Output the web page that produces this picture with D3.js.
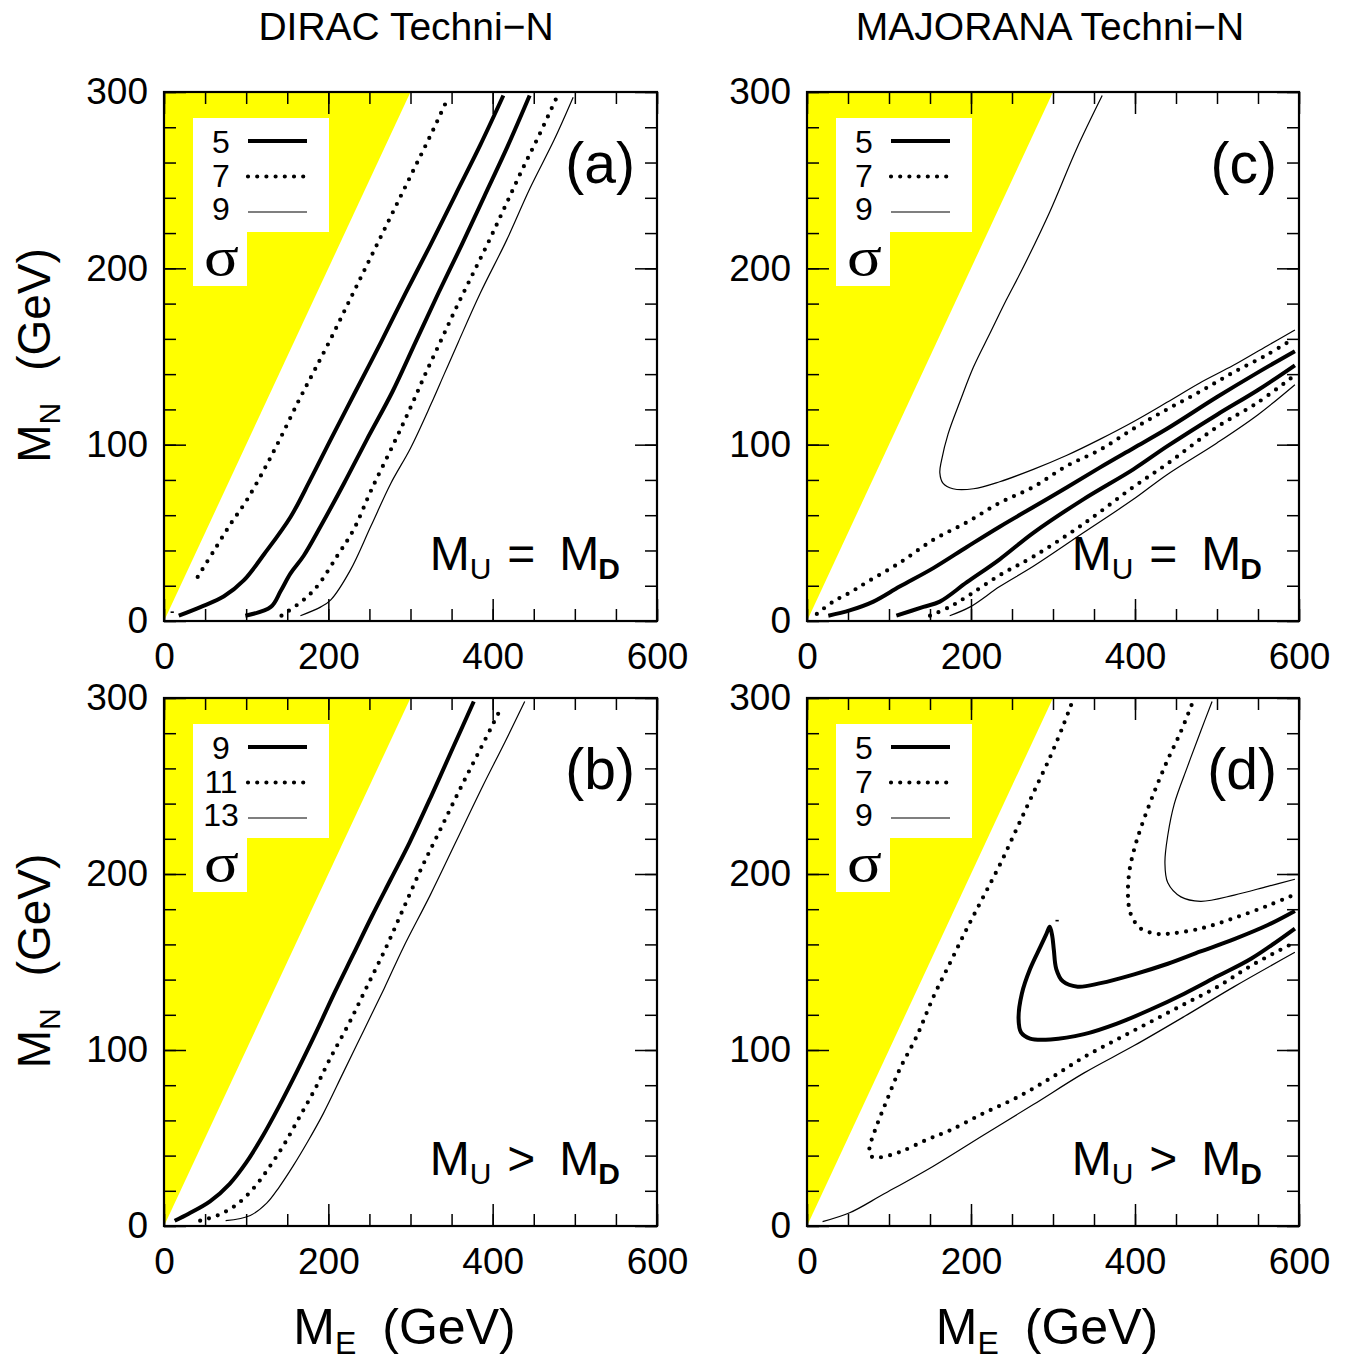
<!DOCTYPE html>
<html>
<head>
<meta charset="utf-8">
<script src="https://cdn.jsdelivr.net/npm/d3@7"></script>
<style>
  body { margin: 0; background: #fff; }
  svg text { font-family: "Liberation Sans", Arial, Helvetica, sans-serif; fill: #000; }
</style>
</head>
<body>
<div id="chart"></div>
<script>
// axis values (GeV)
const xMajor = [0, 200, 400, 600];
const xMinor = d3.range(0, 601, 50);
const yMajor = [0, 100, 200, 300];
const yMinor = d3.range(0, 301, 20);

// kinematic limit M_N = M_E, region above it is shaded
const kinematicLimit = [[0, 0], [300, 300]];

const titles = ["DIRAC Techni\u2212N", "MAJORANA Techni\u2212N"];
const legendTop = ["5", "7", "9"];
const legendB = ["9", "11", "13"];

// (a) Dirac, M_U = M_D   [M_E, M_N]
const a5Left = [[18,3],[45,8],[73,14],[97,23],[122,38],[154,59],[178,80],[203,103],[234,131],[264,158],[294,186],[324,213],[355,242],[385,270],[413,298]];
const a5Right = [[99,3],[130,8],[142,17],[154,27],[170,37],[191,54],[219,78],[247,103],[278,130],[306,158],[334,186],[362,213],[390,241],[418,269],[445,298]];
const a7Left = [[41,25],[61,40],[81,55],[100,68],[122,86],[142,104],[164,125],[183,142],[204,161],[225,181],[245,200],[265,219],[285,238],[305,257],[325,276],[345,296]];
const a7Right = [[143,3],[170,12],[187,20],[211,37],[231,52],[252,74],[280,101],[300,121],[318,140],[337,159],[356,178],[376,197],[396,216],[416,236],[436,256],[456,275],[477,296]];
const a7Stub = [[8,5],[12,5]];
const a9 = [[166,3],[191,8],[203,12],[227,29],[252,54],[276,78],[300,98],[325,123],[341,140],[358,158],[385,186],[417,216],[445,245],[475,273],[498,297]];

// (b) Dirac, M_U > M_D
const b9 = [[13,3],[30,7],[56,14],[80,24],[100,36],[120,51],[140,68],[162,88],[185,110],[208,133],[230,154],[253,176],[276,197],[299,218],[325,244],[350,270],[377,298]];
const b11 = [[44,3],[65,6],[88,12],[110,22],[129,34],[147,47],[165,62],[184,78],[202,95],[225,115],[247,136],[270,158],[291,180],[313,203],[336,225],[360,248],[385,271],[411,295]];
const b13 = [[75,3],[105,6],[125,13],[140,22],[157,34],[175,48],[194,64],[218,87],[243,111],[268,135],[291,158],[324,188],[355,218],[388,250],[415,275],[439,298]];

// (c) Majorana, M_U = M_D
const c5Upper = [[26,3],[52,6],[81,11],[113,19.5],[154,30],[195,42],[235,53.5],[296,70],[357,87],[398,98],[439,109],[500,127],[550,141],[595,153]];
const c5Lower = [[109,3],[142,8],[162,11],[195,22],[235,35],[276,50],[337,69],[398,86],[439,99],[500,117],[550,131],[595,145]];
const c7Upper = [[12,4],[32,11],[52,16],[73,22],[113,33],[154,46],[195,56],[235,67],[276,76],[317,88],[357,97],[398,109],[439,120],[479,130],[520,141],[561,151],[593,160]];
const c7Lower = [[150,3],[174,8],[199,15],[235,26],[276,36.5],[337,55],[398,76],[439,89],[500,110],[550,124],[591,138]];
const c9Upper = [[360,298],[329,268],[296,232],[262,199],[243,182],[223,163],[203,144],[187,125],[172,106],[164,91],[162,84],[166,78],[178,75],[203,75],[235,79],[276,86],[317,94],[357,103],[398,113],[439,124],[479,135],[520,145],[561,156],[595,165]];
const c9Lower = [[174,3],[199,8],[235,19.5],[276,31],[337,50],[398,69],[439,83],[500,101],[550,117],[595,134]];

// (d) Majorana, M_U > M_D
const d5Loop = [[595,179],[562,171],[521,163],[480,156],[440,149],[399,143],[358,138],[330,136],[312,139],[304,146],[301,157],[299,165],[296,170],[292,166],[285,159],[272,146],[262,132],[258,118],[261,110],[272,106.5],[297,106],[338,109],[378,115],[419,123],[460,132],[501,142],[542,152],[595,169]];
const d5Stub = [[303,173.5],[307,173.5]];
const d7Outer = [[322,296],[313,285],[297,267],[276,246],[256,226],[236,206],[215,187],[195,169],[175,150],[154,130],[134,108],[113,89],[97,71],[85,57],[77,46],[76,42],[79,39.4],[89,39],[113,42],[146,49],[175,54.5],[215,64],[256,73],[297,84],[338,96],[378,106],[419,116],[460,126],[501,136],[542,148],[590,160]];
const d7Upper = [[469,296],[456,281],[440,265],[423,246],[407,226],[399,214],[393,201],[391.5,187],[395,177],[407,169],[427,166],[440,166],[480,169],[521,175],[562,182],[593,188]];
const d9Lower = [[19,2.5],[52,7.5],[93,18],[154,34],[215,51.6],[276,69],[338,87],[399,102.5],[460,119],[521,136],[595,155.5]];
const d9Upper = [[494,298],[480,281],[464,261],[448,240],[440,222],[436.5,206.5],[440,195],[456,187],[480,184.5],[521,188],[562,193],[595,197]];

(function() {
  const width = 1353, height = 1363;

  const styles = {
    thick:  { w: 4, dash: null },
    dotted: { w: 4.2, dash: "0,9.2" },
    thin:   { w: 1.2, dash: null },
    stub:   { w: 1.6, dash: null }
  };

  const panels = [
    { id: "a", box: { left: 164, top: 92, w: 493, h: 529 }, op: "=", legend: legendTop, yTitle: true, xTitle: false,
      curves: [[a5Left, "thick"], [a5Right, "thick"], [a7Left, "dotted"], [a7Right, "dotted"], [a9, "thin"], [a7Stub, "stub"]] },
    { id: "c", box: { left: 807, top: 92, w: 492, h: 529 }, op: "=", legend: legendTop, yTitle: false, xTitle: false,
      curves: [[c5Upper, "thick"], [c5Lower, "thick"], [c7Upper, "dotted"], [c7Lower, "dotted"], [c9Upper, "thin"], [c9Lower, "thin"]] },
    { id: "b", box: { left: 164, top: 698, w: 493, h: 528 }, op: ">", legend: legendB, yTitle: true, xTitle: true,
      curves: [[b9, "thick"], [b11, "dotted"], [b13, "thin"]] },
    { id: "d", box: { left: 807, top: 698, w: 492, h: 528 }, op: ">", legend: legendTop, yTitle: false, xTitle: true,
      curves: [[d5Loop, "thick"], [d7Outer, "dotted"], [d7Upper, "dotted"], [d9Lower, "thin"], [d9Upper, "thin"], [d5Stub, "stub"]] }
  ];

  const svg = d3.select("#chart").append("svg")
    .attr("width", width).attr("height", height)
    .attr("viewBox", `0 0 ${width} ${height}`);

  svg.append("text").attr("x", 406).attr("y", 40).attr("text-anchor", "middle")
    .attr("font-size", 39).text(titles[0]);
  svg.append("text").attr("x", 1050).attr("y", 40).attr("text-anchor", "middle")
    .attr("font-size", 39).text(titles[1]);

  const setStyle = (sel, st) => sel
    .attr("fill", "none").attr("stroke", "#000")
    .attr("stroke-width", styles[st].w)
    .attr("stroke-dasharray", styles[st].dash)
    .attr("stroke-linecap", styles[st].dash ? "round" : "butt")
    .attr("stroke-linejoin", "round");

  panels.forEach(p => {
    const b = p.box;
    const bottom = b.top + b.h, right = b.left + b.w;
    const x = d3.scaleLinear().domain([0, 600]).range([b.left, right]);
    const y = d3.scaleLinear().domain([0, 300]).range([bottom, b.top]);
    const g = svg.append("g");

    g.append("clipPath").attr("id", "clip-" + p.id)
      .append("rect").attr("x", b.left).attr("y", b.top).attr("width", b.w).attr("height", b.h);

    // shaded kinematically forbidden region
    const poly = kinematicLimit.concat([[kinematicLimit[0][0], 300]]);
    g.append("path")
      .attr("d", d3.line().x(d => x(d[0])).y(d => y(d[1]))(poly) + "Z")
      .attr("fill", "#ffff00");

    // legend box
    g.append("rect").attr("x", b.left + 29).attr("y", b.top + 26).attr("width", 136).attr("height", 114).attr("fill", "#fff");
    g.append("rect").attr("x", b.left + 29).attr("y", b.top + 139).attr("width", 54).attr("height", 55).attr("fill", "#fff");
    const legStyles = ["thick", "dotted", "thin"];
    p.legend.forEach((lab, i) => {
      g.append("text").attr("x", b.left + 57).attr("y", b.top + 61 + i * 33.5).attr("text-anchor", "middle")
        .attr("font-size", 32).text(lab);
      const ly = b.top + 49 + i * 35.5;
      g.append("line").attr("x1", b.left + 84).attr("x2", b.left + 143).attr("y1", ly).attr("y2", ly)
        .call(setStyle, legStyles[i]);
    });
    g.append("text")
      .attr("transform", `translate(${b.left + 40},${b.top + 183}) scale(1.2,1)`)
      .style("font-family", "'Liberation Serif', 'Times New Roman', serif")
      .attr("font-size", 54).text("\u03c3");

    // contours
    const line = d3.line().x(d => x(d[0])).y(d => y(d[1])).curve(d3.curveCatmullRom.alpha(0.5));
    const cg = g.append("g").attr("clip-path", `url(#clip-${p.id})`);
    p.curves.forEach(([data, st]) => {
      cg.append("path").datum(data).attr("d", line).call(setStyle, st);
    });

    // frame
    g.append("rect").attr("x", b.left).attr("y", b.top).attr("width", b.w).attr("height", b.h)
      .attr("fill", "none").attr("stroke", "#000").attr("stroke-width", 2.2);

    // ticks pointing inward
    const ticks = (axis, tr, vals, size) => g.append("g").attr("transform", tr)
      .call(axis.tickValues(vals).tickSize(size).tickFormat(""))
      .call(s => s.select(".domain").remove())
      .call(s => s.selectAll("line").attr("stroke-width", 1.5));
    ticks(d3.axisTop(x), `translate(0,${bottom})`, xMinor, 12);
    ticks(d3.axisTop(x), `translate(0,${bottom})`, xMajor, 22);
    ticks(d3.axisBottom(x), `translate(0,${b.top})`, xMinor, 12);
    ticks(d3.axisBottom(x), `translate(0,${b.top})`, xMajor, 22);
    ticks(d3.axisRight(y), `translate(${b.left},0)`, yMinor, 12);
    ticks(d3.axisRight(y), `translate(${b.left},0)`, yMajor, 22);
    ticks(d3.axisLeft(y), `translate(${right},0)`, yMinor, 12);
    ticks(d3.axisLeft(y), `translate(${right},0)`, yMajor, 22);

    // tick labels
    g.append("g").attr("transform", `translate(0,${bottom})`)
      .call(d3.axisBottom(x).tickValues(xMajor).tickSize(0).tickPadding(22))
      .call(s => s.select(".domain").remove())
      .selectAll("text").attr("font-size", 37);
    g.append("g").attr("transform", `translate(${b.left},0)`)
      .call(d3.axisLeft(y).tickValues(yMajor).tickSize(0).tickPadding(16))
      .call(s => s.select(".domain").remove())
      .selectAll("text").attr("font-size", 37);

    // panel letter
    g.append("text").attr("x", right - 22).attr("y", b.top + 91).attr("text-anchor", "end")
      .attr("font-size", 57).text(`(${p.id})`);

    // mass relation
    const t = g.append("text").attr("x", right - 37).attr("y", bottom - 51)
      .attr("text-anchor", "end").attr("font-size", 48);
    t.append("tspan").text("M");
    t.append("tspan").attr("font-size", 30).attr("dy", 9).text("U");
    t.append("tspan").attr("dy", -9).attr("dx", 16).text(p.op);
    t.append("tspan").attr("dx", 24).text("M");
    t.append("tspan").attr("font-size", 30).attr("font-weight", "bold").attr("dy", 9).attr("dx", -1).text("D");

    if (p.yTitle) {
      const yt = g.append("text").attr("transform", `translate(50,${b.top + b.h / 2 - 1}) rotate(-90)`)
        .attr("text-anchor", "middle").attr("font-size", 46);
      yt.append("tspan").text("M");
      yt.append("tspan").attr("font-size", 30).attr("dy", 10).text("N");
      yt.append("tspan").attr("dy", -10).attr("dx", 32).text("(GeV)");
    }
    if (p.xTitle) {
      const xt = g.append("text").attr("x", b.left + b.w / 2 - 6).attr("y", 1344)
        .attr("text-anchor", "middle").attr("font-size", 50);
      xt.append("tspan").text("M");
      xt.append("tspan").attr("font-size", 32).attr("dy", 10).text("E");
      xt.append("tspan").attr("dy", -10).attr("dx", 26).text("(GeV)");
    }
  });
})();
</script>
</body>
</html>
